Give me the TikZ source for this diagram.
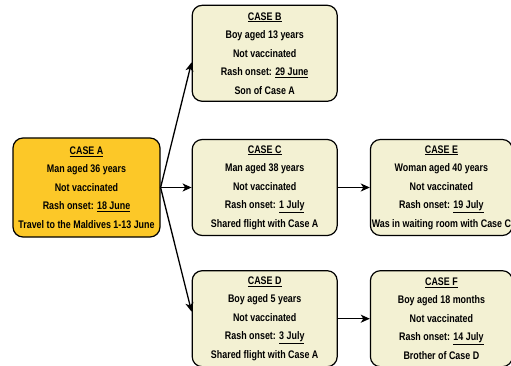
\documentclass[tikz,border=0pt]{standalone}
\usepackage{fontspec}
\newfontfamily\narrowfont{Liberation Sans}[FakeStretch=0.81]
\usetikzlibrary{arrows.meta,positioning}

\definecolor{caseyellow}{RGB}{252,200,40}
\definecolor{casecream}{RGB}{243,241,211}

\begin{document}
\begin{tikzpicture}[->,>={Stealth[length=9pt,width=8pt,inset=2.5pt]},line width=1.2pt,
    case/.style={draw,rounded corners=10pt,fill=casecream,align=center,inner sep=1pt,
        minimum width=145pt,minimum height=96pt,
        font=\narrowfont\bfseries\fontsize{11}{18.5}\selectfont},
    index/.style={case,fill=caseyellow,minimum width=147pt,minimum height=99pt}]
    \useasboundingbox (0pt,0pt) rectangle (511pt,-366pt);
    \node[index] (casea) at (86.5pt,-187.5pt) {\underline{CASE A}\\Man aged 36 years\\Not vaccinated\\Rash onset: \underline{18 June}\\Travel to the Maldives 1-13 June};
    \node[case] (casec) [right=31pt of casea] {\underline{CASE C}\\Man aged 38 years\\Not vaccinated\\Rash onset: \underline{1 July}\\Shared flight with Case A};
    \node[case] (caseb) [above=37pt of casec] {\underline{CASE B}\\Boy aged 13 years\\Not vaccinated\\Rash onset: \underline{29 June}\\Son of Case A};
    \node[case] (cased) [below=34pt of casec] {\underline{CASE D}\\Boy aged 5 years\\Not vaccinated\\Rash onset: \underline{3 July}\\Shared flight with Case A};
    \node[case,minimum width=142pt] (casee) [right=32pt of casec] {\underline{CASE E}\\Woman aged 40 years\\Not vaccinated\\Rash onset: \underline{19 July}\\Was in waiting room with Case C};
    \node[case,minimum width=142pt] (casef) [right=32pt of cased] {\underline{CASE F}\\Boy aged 18 months\\Not vaccinated\\Rash onset: \underline{14 July}\\Brother of Case D};
    \path[line width=1.3pt]
        (casea.east) edge ([yshift=-9pt]caseb.west)
                     edge (casec)
                     edge ([yshift=7pt]cased.west)
        (casec) edge (casee)
        (cased) edge (casef)
    ;
\end{tikzpicture}
\end{document}
